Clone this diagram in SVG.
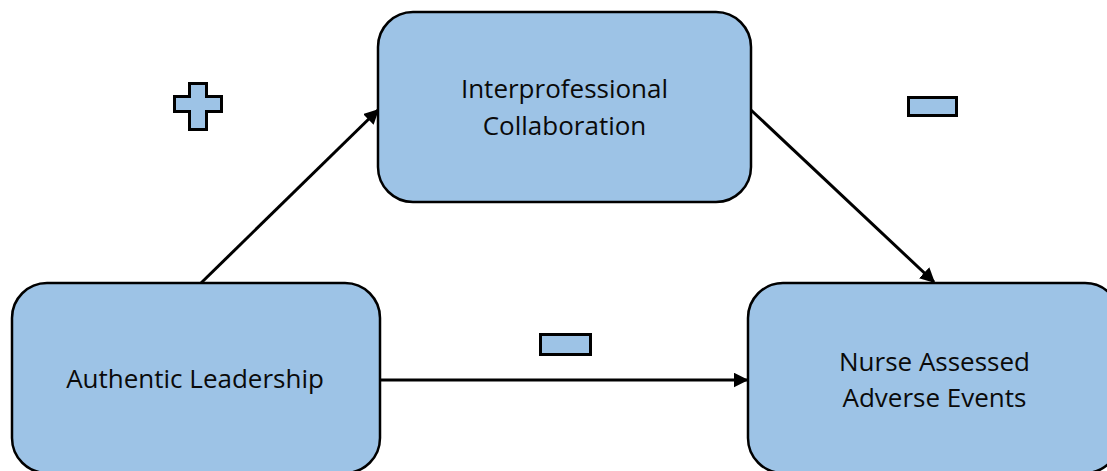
<svg xmlns="http://www.w3.org/2000/svg" width="1107" height="471" viewBox="0 0 1107 471">
  <style>
    .box { fill: #9dc3e6; stroke: #000; stroke-width: 2.5; }
    .sign { fill: #9dc3e6; stroke: #000; stroke-width: 3; stroke-linejoin: miter; }
    .label { font-family: "Open Sans", "Liberation Sans", sans-serif; font-size: 26px; fill: #0a0a0a; text-anchor: middle; }
    .edge { stroke: #000; stroke-width: 3; fill: none; marker-end: url(#arrow); }
  </style>
  <defs>
    <marker id="arrow" viewBox="0 0 10 10" refX="9" refY="5" markerWidth="5" markerHeight="5" orient="auto" markerUnits="strokeWidth">
      <path d="M0,0 L10,5 L0,10 Z" fill="#000"/>
    </marker>
  </defs>

  <rect width="1107" height="471" fill="#fff"/>

  <g id="connectors">
    <line class="edge" x1="200" y1="284" x2="378" y2="110"/>
    <line class="edge" x1="751" y1="110" x2="934" y2="282"/>
    <line class="edge" x1="380" y1="380" x2="747" y2="380"/>
  </g>

  <g id="interprofessional-collaboration">
    <rect class="box" x="378" y="12" width="373" height="190" rx="35" ry="35"/>
    <text class="label" x="564.5" y="98">Interprofessional</text>
    <text class="label" x="564.5" y="135">Collaboration</text>
  </g>

  <g id="authentic-leadership">
    <rect class="box" x="12" y="283" width="368" height="190" rx="35" ry="35"/>
    <text class="label" x="195" y="388">Authentic Leadership</text>
  </g>

  <g id="nurse-assessed-adverse-events">
    <rect class="box" x="748" y="283" width="372" height="190" rx="35" ry="35"/>
    <text class="label" x="934.5" y="371">Nurse Assessed</text>
    <text class="label" x="934.5" y="407">Adverse Events</text>
  </g>

  <g id="positive-sign">
    <path class="sign" d="M189.5,83.5 H206.5 V96.5 H221.5 V111.5 H206.5 V129.5 H189.5 V111.5 H174.5 V96.5 H189.5 Z"/>
  </g>

  <g id="negative-sign-top">
    <rect class="sign" x="908.5" y="97.5" width="48" height="18"/>
  </g>

  <g id="negative-sign-middle">
    <rect class="sign" x="540.5" y="334.5" width="50" height="20"/>
  </g>
</svg>
